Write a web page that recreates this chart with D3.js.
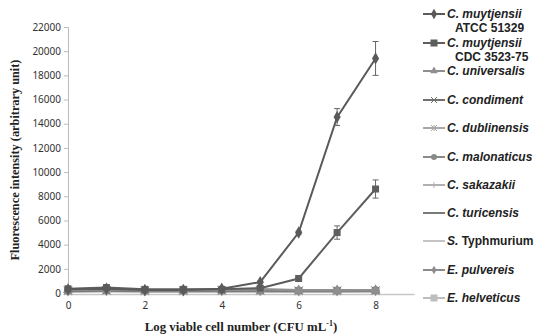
<!DOCTYPE html>
<html>
<head>
<meta charset="utf-8">
<script src="https://cdn.jsdelivr.net/npm/d3@7"></script>
<style>
  body { margin: 0; background: #fff; }
  svg { display: block; }
</style>
</head>
<body>
<div id="chart-area"></div>
<script>
// data
const cellNumbers = [0, 1, 2, 3, 4, 5, 6, 7, 8];
const xTicks = [0, 2, 4, 6, 8];
const yTicks = [0, 2000, 4000, 6000, 8000, 10000, 12000, 14000, 16000, 18000, 20000, 22000];

const atcc51329 = [300, 350, 250, 250, 350, 900, 5000, 14550, 19400];
const atcc51329Err = [40, 40, 30, 30, 40, 80, 120, 700, 1400];
const cdc352375 = [350, 450, 300, 300, 300, 400, 1200, 5000, 8600];
const cdc352375Err = [40, 50, 30, 30, 40, 60, 100, 550, 750];
const universalis = [250, 300, 220, 220, 250, 300, 220, 220, 230];
const condiment = [200, 220, 200, 200, 210, 220, 200, 200, 210];
const dublinensis = [180, 200, 180, 180, 190, 200, 180, 180, 190];
const malonaticus = [200, 230, 200, 200, 210, 210, 200, 200, 220];
const sakazakii = [170, 190, 170, 170, 180, 180, 170, 170, 180];
const turicensis = [160, 180, 160, 160, 170, 170, 160, 160, 170];
const typhmurium = [150, 160, 150, 150, 150, 150, 150, 150, 160];
const pulvereis = [190, 210, 190, 190, 200, 200, 190, 190, 200];
const helveticus = [150, 170, 150, 150, 160, 160, 150, 150, 170];

const seriesNames = [
  ['C. muytjensii', 'ATCC 51329'],
  ['C. muytjensii', 'CDC 3523-75'],
  ['C. universalis'],
  ['C. condiment'],
  ['C. dublinensis'],
  ['C. malonaticus'],
  ['C. sakazakii'],
  ['C. turicensis'],
  ['S. Typhmurium'],
  ['E. pulvereis'],
  ['E. helveticus']
];
const seriesValues = [atcc51329, cdc352375, universalis, condiment, dublinensis,
  malonaticus, sakazakii, turicensis, typhmurium, pulvereis, helveticus];
const seriesErrors = [atcc51329Err, cdc352375Err];

// styles
const colors = ['#5a5a5a', '#5e5e5e', '#8f8f8f', '#707070', '#a8a8a8', '#8a8a8a',
  '#b0b0b0', '#7a7a7a', '#c4c4c4', '#8c8c8c', '#bdbdbd'];
const markers = ['diamond', 'square', 'triangle', 'x', 'asterisk', 'circle',
  'plus', 'none', 'none', 'smalldiamond', 'square'];

const width = 544, height = 336;
const x = d3.scaleLinear().domain([0, 9]).range([68, 414]);
const y = d3.scaleLinear().domain([0, 22000]).range([293, 27]);

const svg = d3.select('#chart-area').append('svg')
  .attr('width', width).attr('height', height);

// y axis
const yAxis = svg.append('g')
  .attr('transform', `translate(${x(0)},0)`)
  .call(d3.axisLeft(y).tickValues(yTicks).tickSize(4).tickPadding(3).tickFormat(d3.format('d')));
yAxis.select('.domain').attr('stroke', '#bbb');
yAxis.selectAll('.tick line').attr('stroke', '#bbb');
yAxis.selectAll('text').attr('font-family', 'Noto Sans, sans-serif')
  .attr('font-size', 10).attr('fill', '#333');

// x axis
const xAxis = svg.append('g')
  .attr('transform', `translate(0,${y(0) + 1})`)
  .call(d3.axisBottom(x).tickValues(xTicks).tickSize(0).tickPadding(8));
xAxis.select('.domain').attr('stroke', '#c8c8c8').attr('stroke-width', 1.5);
xAxis.selectAll('text').attr('font-family', 'Noto Sans, sans-serif')
  .attr('font-size', 10).attr('fill', '#333');

// axis titles
svg.append('text')
  .attr('transform', `translate(19,${(y(0) + y(22000)) / 2}) rotate(-90)`)
  .attr('text-anchor', 'middle')
  .attr('font-family', 'Liberation Serif, serif')
  .attr('font-weight', 'bold')
  .attr('font-size', 12.3)
  .attr('fill', '#222')
  .text('Fluorescence intensity (arbitrary unit)');

const xTitle = svg.append('text')
  .attr('x', 241).attr('y', 331)
  .attr('text-anchor', 'middle')
  .attr('font-family', 'Liberation Serif, serif')
  .attr('font-weight', 'bold')
  .attr('font-size', 12.8)
  .attr('fill', '#222');
xTitle.append('tspan').text('Log viable cell number (CFU mL');
xTitle.append('tspan').attr('dy', -5).attr('font-size', 8).text('-1');
xTitle.append('tspan').attr('dy', 5).text(')');

function drawMarker(g, type, color, size) {
  const s = size;
  if (type === 'diamond') {
    g.append('path').attr('d', d3.symbol(d3.symbolDiamond, s * s * 0.9)()).attr('fill', color);
  } else if (type === 'smalldiamond') {
    g.append('path').attr('d', d3.symbol(d3.symbolDiamond, s * s * 0.6)()).attr('fill', color);
  } else if (type === 'square') {
    g.append('rect').attr('x', -s / 2).attr('y', -s / 2).attr('width', s).attr('height', s).attr('fill', color);
  } else if (type === 'triangle') {
    g.append('path').attr('d', d3.symbol(d3.symbolTriangle, s * s * 0.7)()).attr('fill', color);
  } else if (type === 'circle') {
    g.append('circle').attr('r', s / 2).attr('fill', color);
  } else if (type === 'x') {
    const h = s / 2;
    g.append('path').attr('d', `M${-h},${-h}L${h},${h}M${-h},${h}L${h},${-h}`)
      .attr('stroke', color).attr('stroke-width', 1);
  } else if (type === 'asterisk') {
    const h = s / 2;
    g.append('path').attr('d', `M${-h},${-h}L${h},${h}M${-h},${h}L${h},${-h}M0,${-h}L0,${h}`)
      .attr('stroke', color).attr('stroke-width', 1);
  } else if (type === 'plus') {
    const h = s / 2;
    g.append('path').attr('d', `M${-h},0L${h},0M0,${-h}L0,${h}`)
      .attr('stroke', color).attr('stroke-width', 1);
  }
}

const line = d3.line().x((d, i) => x(cellNumbers[i])).y(d => y(d));

// draw the low series first so the two muytjensii lines sit on top
const order = [8, 10, 7, 6, 4, 9, 5, 3, 2, 1, 0];
order.forEach(k => {
  const vals = seriesValues[k];
  const big = k < 2;
  svg.append('path')
    .datum(vals)
    .attr('d', line)
    .attr('fill', 'none')
    .attr('stroke', colors[k])
    .attr('stroke-width', big ? 2 : 2.5);

  if (seriesErrors[k]) {
    const err = seriesErrors[k];
    vals.forEach((v, i) => {
      const cx = x(cellNumbers[i]);
      const e = err[i];
      const g = svg.append('g').attr('stroke', '#666').attr('stroke-width', 1);
      g.append('line').attr('x1', cx).attr('x2', cx).attr('y1', y(v - e)).attr('y2', y(v + e));
      g.append('line').attr('x1', cx - 3).attr('x2', cx + 3).attr('y1', y(v - e)).attr('y2', y(v - e));
      g.append('line').attr('x1', cx - 3).attr('x2', cx + 3).attr('y1', y(v + e)).attr('y2', y(v + e));
    });
  }

  vals.forEach((v, i) => {
    const g = svg.append('g').attr('transform', `translate(${x(cellNumbers[i])},${y(v)})`);
    drawMarker(g, markers[k], colors[k], big ? 7 : 8);
  });
});

// legend
const legendY = [14, 43, 71, 100, 128, 157, 185, 213, 241, 270, 298];
seriesNames.forEach((name, k) => {
  const g = svg.append('g').attr('transform', `translate(423,${legendY[k]})`);
  g.append('line').attr('x1', 0).attr('x2', 22).attr('y1', 0).attr('y2', 0)
    .attr('stroke', colors[k]).attr('stroke-width', 2);
  const m = g.append('g').attr('transform', 'translate(11,0)');
  drawMarker(m, markers[k], colors[k], k === 1 || k === 10 ? 7 : 6);

  const parts = name[0].split(' ');
  const t = g.append('text')
    .attr('x', 24).attr('y', 4)
    .attr('font-family', 'Liberation Sans, sans-serif')
    .attr('font-weight', 'bold')
    .attr('font-size', 12)
    .attr('fill', '#222');
  if (parts[1] === 'Typhmurium') {
    t.append('tspan').attr('font-style', 'italic').text(parts[0] + ' ');
    t.append('tspan').text(parts[1]);
  } else {
    t.attr('font-style', 'italic').text(name[0]);
  }
  if (name[1]) {
    g.append('text')
      .attr('x', 32).attr('y', 18)
      .attr('font-family', 'Liberation Sans, sans-serif')
      .attr('font-weight', 'bold')
      .attr('font-size', 12)
      .attr('fill', '#222')
      .text(name[1]);
  }
});
</script>
</body>
</html>
